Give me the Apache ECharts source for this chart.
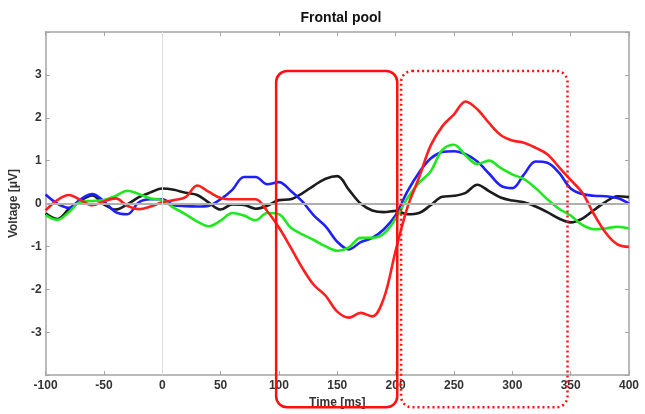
<!DOCTYPE html>
<html>
<head>
<meta charset="utf-8">
<script src="https://cdn.jsdelivr.net/npm/echarts@6/dist/echarts.min.js"></script>
<style>
html,body{margin:0;padding:0;background:#fff;}
#chart{width:645px;height:414px;}
</style>
</head>
<body>
<div id="chart"></div>
<script>
// Time axis (ms)
const times = [-100,-90,-80,-70,-60,-50,-40,-30,-20,-10,0,10,20,30,40,50,60,70,80,90,100,110,120,130,140,150,160,170,180,190,200,210,220,230,240,250,260,270,280,290,300,310,320,330,340,350,360,370,380,390,400];
const xTicks = [-100,-50,0,50,100,150,200,250,300,350,400];
const yTicks = [-3,-2,-1,0,1,2,3];

const blackVals = [-0.23,-0.36,-0.13,0.07,0.19,-0.02,-0.14,-0.02,0.15,0.26,0.35,0.32,0.25,0.2,0.02,-0.14,-0.02,-0.03,-0.12,-0.05,0.08,0.1,0.24,0.42,0.58,0.64,0.32,0.0,-0.16,-0.2,-0.17,-0.25,-0.22,-0.04,0.16,0.18,0.25,0.44,0.29,0.14,0.07,0.03,-0.07,-0.2,-0.35,-0.44,-0.35,-0.15,0.04,0.17,0.15];
const blueVals = [0.21,0.0,-0.1,0.1,0.22,0.05,-0.2,-0.25,0.03,0.1,0.1,-0.04,-0.06,-0.07,-0.05,0.1,0.32,0.62,0.62,0.45,0.5,0.3,0.05,-0.28,-0.53,-0.89,-1.07,-0.9,-0.8,-0.6,-0.27,0.28,0.72,1.05,1.2,1.22,1.15,0.98,0.7,0.42,0.36,0.68,0.98,0.95,0.72,0.35,0.22,0.18,0.17,0.13,0.0];
const greenVals = [-0.27,-0.38,-0.2,0.04,0.06,0.08,0.18,0.3,0.22,0.12,0.08,-0.1,-0.25,-0.42,-0.53,-0.4,-0.22,-0.28,-0.39,-0.22,-0.25,-0.56,-0.72,-0.85,-1.0,-1.1,-1.02,-0.8,-0.8,-0.7,-0.35,0.12,0.48,0.75,1.25,1.37,1.12,0.92,1.0,0.83,0.68,0.57,0.36,0.1,-0.12,-0.28,-0.5,-0.6,-0.58,-0.54,-0.58];
const redVals = [-0.16,0.08,0.2,0.08,-0.04,0.05,0.12,-0.05,-0.13,-0.07,0.03,0.08,0.15,0.42,0.27,0.13,0.1,0.1,0.1,-0.18,-0.56,-1.02,-1.5,-1.9,-2.15,-2.52,-2.66,-2.55,-2.63,-2.2,-1.1,-0.1,0.6,1.35,1.8,2.08,2.38,2.2,1.88,1.6,1.47,1.42,1.3,1.15,0.85,0.55,0.25,-0.25,-0.68,-0.95,-1.01];

// Annotation boxes in data units: [tStart, tEnd, vTop, vBottom]
const solidBox = [97.6, 201.4, 3.09, -4.75];
const dottedBox = [204.7, 347.3, 3.09, -4.75];

const pair = vals => times.map((t, i) => [t, vals[i]]);

const chart = echarts.init(document.getElementById('chart'), null, {renderer: 'canvas'});
const frameColor = '#a4a4a4';
const labelStyle = {color: '#333', fontWeight: 'bold', fontSize: 12, fontFamily: 'Liberation Sans, Arial, sans-serif'};

function lineSeries(name, vals, color) {
  return {
    name, type: 'line', data: pair(vals), showSymbol: false, smooth: 0.35,
    lineStyle: {color, width: 2.6}, itemStyle: {color}, z: 3, silent: true, animation: false
  };
}

chart.setOption({
  animation: false,
  title: {
    text: 'Frontal pool', left: 336, top: 6, textAlign: 'center',
    textStyle: {fontSize: 14, fontWeight: 'bold', color: '#111', fontFamily: 'Liberation Sans, Arial, sans-serif'}
  },
  grid: {left: 43, right: 16, top: 32, bottom: 37, show: false},
  xAxis: [{
    type: 'value', min: -100, max: 400, interval: 50, position: 'bottom',
    name: 'Time [ms]', nameLocation: 'middle', nameGap: 19,
    nameTextStyle: {color: '#333', fontWeight: 'bold', fontSize: 12, fontFamily: 'Liberation Sans, Arial, sans-serif'},
    axisLine: {show: true, onZero: false, lineStyle: {color: frameColor, width: 1.5}},
    axisTick: {show: true, inside: true, length: 4, lineStyle: {color: frameColor, width: 1}},
    axisLabel: Object.assign({margin: 5, formatter: v => xTicks.includes(v) ? String(v) : ''}, labelStyle),
    splitLine: {show: false}
  }, {
    type: 'value', min: -100, max: 400, interval: 50, position: 'top',
    axisLine: {show: true, onZero: false, lineStyle: {color: frameColor, width: 1.5}},
    axisTick: {show: true, inside: true, length: 4, lineStyle: {color: frameColor, width: 1}},
    axisLabel: {show: false}, splitLine: {show: false}
  }],
  yAxis: [{
    type: 'value', min: -4, max: 4, interval: 1, position: 'left',
    name: 'Voltage [\u03BCV]', nameLocation: 'middle', nameGap: 17, nameRotate: 90,
    nameTextStyle: {color: '#333', fontWeight: 'bold', fontSize: 12, fontFamily: 'Liberation Sans, Arial, sans-serif'},
    axisLine: {show: true, onZero: false, lineStyle: {color: frameColor, width: 1.5}},
    axisTick: {show: true, inside: true, length: 4, lineStyle: {color: frameColor, width: 1}},
    axisLabel: Object.assign({margin: 4, formatter: v => yTicks.includes(v) ? String(v) : ''}, labelStyle),
    splitLine: {show: false}
  }, {
    type: 'value', min: -4, max: 4, interval: 1, position: 'right',
    axisLine: {show: true, onZero: false, lineStyle: {color: frameColor, width: 1.5}},
    axisTick: {show: true, inside: true, length: 4, lineStyle: {color: frameColor, width: 1}},
    axisLabel: {show: false}, splitLine: {show: false}
  }],
  series: [
    {
      name: 'ref', type: 'line', data: [], silent: true, z: 1,
      markLine: {
        silent: true, symbol: 'none', animation: false, label: {show: false},
        data: [
          {yAxis: 0, lineStyle: {color: '#b0b0b0', width: 2, type: 'solid'}},
          {xAxis: 0, lineStyle: {color: '#dcdcdc', width: 1, type: 'solid'}}
        ]
      }
    },
    lineSeries('black', blackVals, '#1c1c1c'),
    lineSeries('blue', blueVals, '#1f1fff'),
    lineSeries('green', greenVals, '#1fe81f'),
    lineSeries('red', redVals, '#ff1f1f')
  ]
});

function boxGraphic(box, dashed) {
  const p1 = chart.convertToPixel({xAxisIndex: 0, yAxisIndex: 0}, [box[0], box[2]]);
  const p2 = chart.convertToPixel({xAxisIndex: 0, yAxisIndex: 0}, [box[1], box[3]]);
  return {
    type: 'rect', z: 10, silent: true,
    shape: {x: p1[0], y: p1[1], width: p2[0] - p1[0], height: p2[1] - p1[1], r: 11},
    style: {fill: 'none', stroke: '#ff1010', lineWidth: 2.5, lineDash: dashed ? [2, 3] : null}
  };
}
chart.setOption({graphic: [boxGraphic(solidBox, false), boxGraphic(dottedBox, true)]});
</script>
</body>
</html>
